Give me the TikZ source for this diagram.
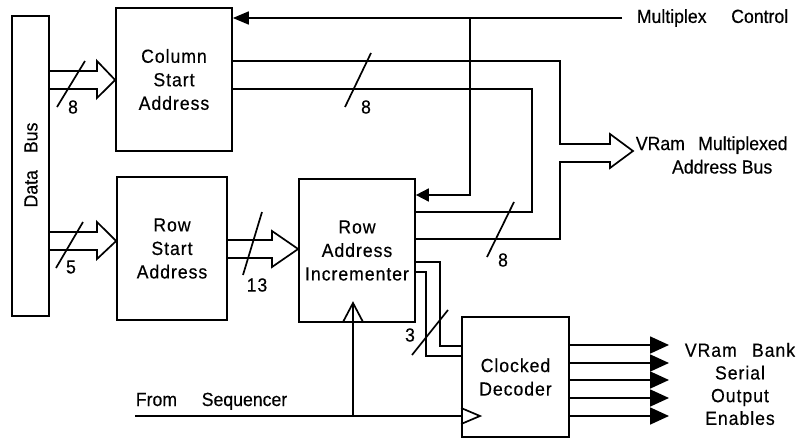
\documentclass[tikz,border=0pt]{standalone}
\usepackage{fontspec}
\setmainfont[FakeStretch=0.93,FakeBold=0.4]{Liberation Sans}
\newfontfamily\spacedfont[LetterSpace=5,FakeStretch=0.93,FakeBold=0.4]{Liberation Sans}
\usetikzlibrary{arrows.meta}

\begin{document}
\begin{tikzpicture}[x=1pt,y=-1pt, line width=1.7pt, line join=miter,
  block/.style={draw, inner sep=0pt, align=center, font=\spacedfont\fontsize{19}{23.5}\selectfont},
  lbl/.style={inner sep=0pt, align=center, font=\fontsize{19}{23.5}\selectfont},
  slbl/.style={inner sep=0pt, align=center, font=\spacedfont\fontsize{19}{22.7}\selectfont},
  tipbig/.style={-{Triangle[length=16pt,width=13pt]}},
  tipout/.style={-{Triangle[length=19pt,width=17pt]}}]
\useasboundingbox (0,0) rectangle (796,439);
\node[block, minimum width=37pt, minimum height=300pt] (databus) at (30.5,166) {};
\node[lbl, rotate=90] (databuslbl) at (31,165) {Data\hspace{0.9em}Bus};
\node[block, minimum width=116pt, minimum height=143pt] (colstart) at (174,79.5) {Column\\Start\\Address};
\node[block, minimum width=110pt, minimum height=143pt] (rowstart) at (172,248.5) {Row\\Start\\Address};
\node[block, minimum width=116pt, minimum height=143pt] (incr) at (357,250.5) {Row\\Address\\Incrementer};
\node[block, minimum width=107pt, minimum height=120pt] (decoder) at (515.5,377) {Clocked\\Decoder};
\draw (databus.east |- 0,71) -- (97,71) -- (97,61) -- (colstart.west |- 0,80) -- (97,98) -- (97,89) -- (databus.east |- 0,89);
\draw (57,107) -- (85,61);
\node[lbl] (n8a) at (73,107) {8};
\draw (databus.east |- 0,232) -- (97,232) -- (97,222) -- (rowstart.west |- 0,241) -- (97,259) -- (97,250) -- (databus.east |- 0,250);
\draw (56,268) -- (83,222);
\node[lbl] (n5) at (71,267) {5};
\draw (rowstart.east |- 0,240) -- (272,240) -- (272,231) -- (incr.west |- 0,249) -- (272,267) -- (272,258) -- (rowstart.east |- 0,258);
\draw (243,275) -- (262,212);
\node[slbl] (n13) at (257,285) {13};
\draw (colstart.east |- 0,61) -- (560,61) -- (560,144) -- (610,144) -- (610,134) -- (633,151) coordinate (vrtip)
  -- (610,168) -- (610,162) -- (560,162) -- (560,239) -- (incr.east |- 0,239);
\draw (colstart.east |- 0,89) -- (532,89) -- (532,212) -- (incr.east |- 0,212);
\draw (345,107) -- (371,53);
\node[lbl] (n8b) at (366,107) {8};
\draw (487,257) -- (514,202);
\node[lbl] (n8c) at (503,260) {8};
\node[lbl, anchor=west] (vrbuslbl) at (635,155) {VRam\hspace{0.7em}Multiplexed\\\hspace{1.1em}Address Bus};
\coordinate (muxin) at (622,18);
\node[lbl, anchor=west] (muxlbl) at (636,18) {Multiplex\hspace{1.3em}Control};
\draw[tipbig] (muxin) -- (colstart.east |- muxin);
\draw[-{Triangle[length=13pt,width=13pt]}] (470,18) -- (470,195) -- (incr.east |- 0,195);
\draw (incr.east |- 0,262) -- (440,262) -- (440,346) -- (decoder.west |- 0,346);
\draw (incr.east |- 0,272) -- (426,272) -- (426,356) -- (decoder.west |- 0,356);
\draw (412,355) -- (448,310);
\node[lbl] (n3) at (410,335) {3};
\coordinate (seq) at (135,416);
\node[lbl, anchor=base west] (seqlbl) at (135,406) {From\hspace{1.3em}Sequencer};
\draw (seq) -- (decoder.west |- seq);
\draw (decoder.west |- 0,408) -- (480,416) -- (decoder.west |- 0,424);
\coordinate (clk) at (353,416);
\draw (clk) -- (353,303);
\draw (343,322) -- (353,303) -- (363,322);
\foreach \y in {345,363,380,398,416}
  \draw[tipout] (decoder.east |- 0,\y) -- (669,\y);
\node[slbl] (enables) at (740,384) {VRam\hspace{0.8em}Bank\\Serial\\Output\\Enables};
\end{tikzpicture}
\end{document}
